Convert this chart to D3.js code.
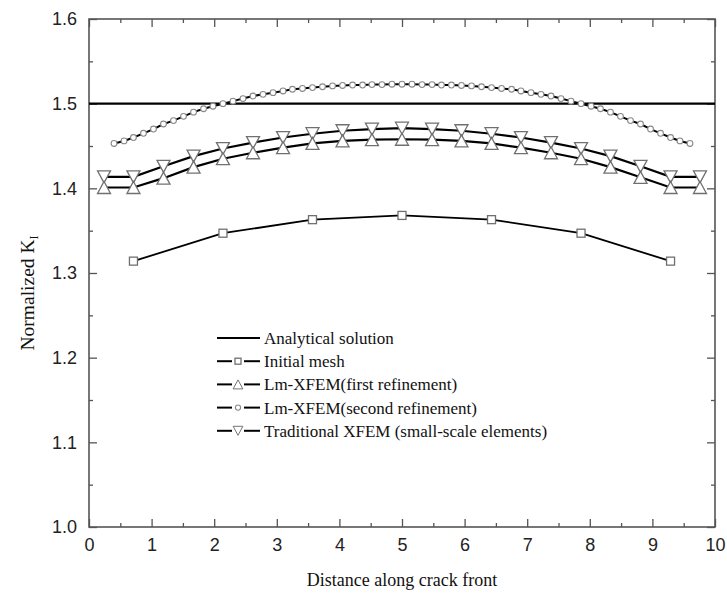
<!DOCTYPE html>
<html><head><meta charset="utf-8">
<script src="https://cdn.jsdelivr.net/npm/d3@7"></script>
<style>body{margin:0;background:#fff}svg{display:block}</style>
</head><body>
<svg id="c" width="727" height="593"></svg>
<script>
// ---- data ----
const xTicks = [0,1,2,3,4,5,6,7,8,9,10];
const yTicks = [1.0,1.1,1.2,1.3,1.4,1.5,1.6];
const analyticalValue = 1.5;

const initialX = [0.71,2.14,3.57,5.00,6.43,7.86,9.29];
const initialY = [1.314,1.347,1.363,1.368,1.363,1.347,1.314];

const refineX = [0.24,0.71,1.19,1.67,2.14,2.62,3.10,3.57,4.05,4.52,5.00,5.48,5.95,6.43,6.90,7.38,7.86,8.33,8.81,9.29,9.76];
const firstRefY = [1.401,1.401,1.412,1.425,1.435,1.442,1.448,1.453,1.456,1.4575,1.458,1.4575,1.456,1.453,1.448,1.442,1.435,1.425,1.413,1.401,1.401];
const traditionalY = [1.4135,1.4135,1.426,1.438,1.447,1.454,1.460,1.4645,1.468,1.470,1.471,1.470,1.468,1.4645,1.460,1.454,1.447,1.438,1.426,1.4135,1.4135];

const secondX = [0.40,0.56,0.71,0.87,1.03,1.19,1.35,1.51,1.67,1.83,1.98,2.14,2.30,2.46,2.62,2.78,2.94,3.10,3.25,3.41,3.57,3.73,3.89,4.05,4.21,4.37,4.52,4.68,4.84,5.00,
  5.16,5.32,5.48,5.63,5.79,5.95,6.11,6.27,6.43,6.59,6.75,6.90,7.06,7.22,7.38,7.54,7.70,7.86,8.02,8.17,8.33,8.49,8.65,8.81,8.97,9.13,9.29,9.44,9.60];
const secondY = [1.453,1.456,1.460,1.465,1.470,1.476,1.480,1.485,1.490,1.494,1.497,1.500,1.503,1.506,1.509,1.511,1.513,1.515,1.517,1.518,1.519,1.520,1.521,1.5215,1.522,1.522,1.5225,1.5225,1.523,1.523,
  1.523,1.5225,1.5225,1.522,1.522,1.5215,1.521,1.520,1.519,1.518,1.517,1.515,1.513,1.511,1.509,1.506,1.503,1.500,1.497,1.494,1.490,1.485,1.480,1.476,1.470,1.465,1.460,1.456,1.453];

const legendLabels = ["Analytical solution","Initial mesh","Lm-XFEM(first refinement)","Lm-XFEM(second refinement)","Traditional XFEM (small-scale elements)"];
const legendMarkers = ["none","square","triUp","circle","triDown"];

// ---- layout ----
const L=89, R=715, T=19, B=527;
const svg = d3.select("#c");
const x = d3.scaleLinear().domain([0,10]).range([L,R]);
const y = d3.scaleLinear().domain([1.0,1.6]).range([B,T]);
const axisColor = "#555", markStroke = "#707070";
const tickFont = "'Liberation Sans', Arial, sans-serif";
const serif = "'Liberation Serif', 'Times New Roman', serif";

const minorX = d3.range(0,21).map(i=>i*0.5).filter(v=>!xTicks.includes(v));
const minorY = [1.05,1.15,1.25,1.35,1.45,1.55];

function styleAxis(g){
  g.select(".domain").remove();
  g.selectAll("line").attr("stroke",axisColor).attr("stroke-width",1.3);
  g.selectAll("text").attr("font-family",tickFont).attr("font-size",18).attr("fill","#222");
}
// bottom
svg.append("g").attr("transform",`translate(0,${B})`)
  .call(d3.axisBottom(x).tickValues(xTicks).tickFormat(d3.format("d")).tickSize(-8).tickPadding(11)).call(styleAxis);
svg.append("g").attr("transform",`translate(0,${B})`)
  .call(d3.axisBottom(x).tickValues(minorX).tickFormat("").tickSize(-4)).call(styleAxis);
// top
svg.append("g").attr("transform",`translate(0,${T})`)
  .call(d3.axisTop(x).tickValues(xTicks).tickFormat("").tickSize(-8)).call(styleAxis);
svg.append("g").attr("transform",`translate(0,${T})`)
  .call(d3.axisTop(x).tickValues(minorX).tickFormat("").tickSize(-4)).call(styleAxis);
// left
svg.append("g").attr("transform",`translate(${L},0)`)
  .call(d3.axisLeft(y).tickValues(yTicks).tickFormat(d3.format(".1f")).tickSize(-8).tickPadding(12)).call(styleAxis);
svg.append("g").attr("transform",`translate(${L},0)`)
  .call(d3.axisLeft(y).tickValues(minorY).tickFormat("").tickSize(-4)).call(styleAxis);
// right
svg.append("g").attr("transform",`translate(${R},0)`)
  .call(d3.axisRight(y).tickValues(yTicks).tickFormat("").tickSize(-8)).call(styleAxis);
svg.append("g").attr("transform",`translate(${R},0)`)
  .call(d3.axisRight(y).tickValues(minorY).tickFormat("").tickSize(-4)).call(styleAxis);

// frame
svg.append("rect").attr("x",L).attr("y",T).attr("width",R-L).attr("height",B-T)
  .attr("fill","none").attr("stroke",axisColor).attr("stroke-width",1.6);

// analytical line
svg.append("line").attr("x1",x(0)).attr("x2",x(10)).attr("y1",y(analyticalValue)).attr("y2",y(analyticalValue))
  .attr("stroke","#000").attr("stroke-width",2.2);

const line = d3.line().x(d=>x(d[0])).y(d=>y(d[1]));
function zip(a,b){return a.map((v,i)=>[v,b[i]]);}

const initData = zip(initialX,initialY);
const firstData = zip(refineX,firstRefY);
const tradData = zip(refineX,traditionalY);
const secData = zip(secondX,secondY);

[[initData,1.8],[firstData,2.2],[tradData,2.2],[secData,2.0]].forEach(([d,w])=>{
  svg.append("path").datum(d).attr("d",line).attr("fill","none").attr("stroke","#000").attr("stroke-width",w);
});

// marker shapes
function markerPath(type){
  const w=13,h=12;
  if(type==="triUp") return `M0,${-h/2}L${w/2},${h/2}L${-w/2},${h/2}Z`;
  if(type==="triDown") return `M0,${h/2}L${w/2},${-h/2}L${-w/2},${-h/2}Z`;
  return null;
}
function drawMarker(g,type,cx,cy,scale){
  scale=scale||1;
  if(type==="square"){
    g.append("rect").attr("x",cx-4*scale).attr("y",cy-4*scale).attr("width",8*scale).attr("height",8*scale)
      .attr("fill","#fff").attr("stroke",markStroke).attr("stroke-width",1.3);
  } else if(type==="circle"){
    g.append("circle").attr("cx",cx).attr("cy",cy).attr("r",2.9*scale)
      .attr("fill","#fff").attr("stroke","#8a8a8a").attr("stroke-width",1.1);
  } else if(type==="triUp"||type==="triDown"){
    g.append("path").attr("d",markerPath(type)).attr("transform",`translate(${cx},${cy}) scale(${scale})`)
      .attr("fill","#fff").attr("stroke",markStroke).attr("stroke-width",1.3);
  }
}
const mg = svg.append("g");
initData.forEach(d=>drawMarker(mg,"square",x(d[0]),y(d[1])));
tradData.forEach(d=>drawMarker(mg,"triDown",x(d[0]),y(d[1])));
firstData.forEach(d=>drawMarker(mg,"triUp",x(d[0]),y(d[1])));
secData.forEach(d=>drawMarker(mg,"circle",x(d[0]),y(d[1])));

// legend
const lg = svg.append("g");
const legX1=217, legX2=260, legMid=238, legY0=338, legDy=23.2;
legendLabels.forEach((lab,i)=>{
  const yy = legY0+i*legDy;
  if(legendMarkers[i]==="none"){
    lg.append("line").attr("x1",legX1).attr("x2",legX2).attr("y1",yy).attr("y2",yy).attr("stroke","#000").attr("stroke-width",2);
  } else {
    lg.append("line").attr("x1",legX1).attr("x2",legMid-6).attr("y1",yy).attr("y2",yy).attr("stroke","#000").attr("stroke-width",2);
    lg.append("line").attr("x1",legMid+6).attr("x2",legX2).attr("y1",yy).attr("y2",yy).attr("stroke","#000").attr("stroke-width",2);
    drawMarker(lg,legendMarkers[i],legMid,yy,legendMarkers[i]==="circle"?0.9:0.75);
  }
  lg.append("text").attr("x",264).attr("y",yy).attr("dy","0.35em").attr("font-family",serif).attr("font-size",17)
    .attr("fill","#111").text(lab);
});

// axis titles
svg.append("text").attr("x",(L+R)/2).attr("y",586).attr("text-anchor","middle")
  .attr("font-family",serif).attr("font-size",18).attr("fill","#111").text("Distance along crack front");
const yt = svg.append("text").attr("transform",`translate(34,293) rotate(-90)`).attr("text-anchor","middle")
  .attr("font-family",serif).attr("font-size",19.5).attr("fill","#111");
yt.append("tspan").text("Normalized K");
yt.append("tspan").attr("font-size",12).attr("dy",4).text("I");
</script>
</body></html>
